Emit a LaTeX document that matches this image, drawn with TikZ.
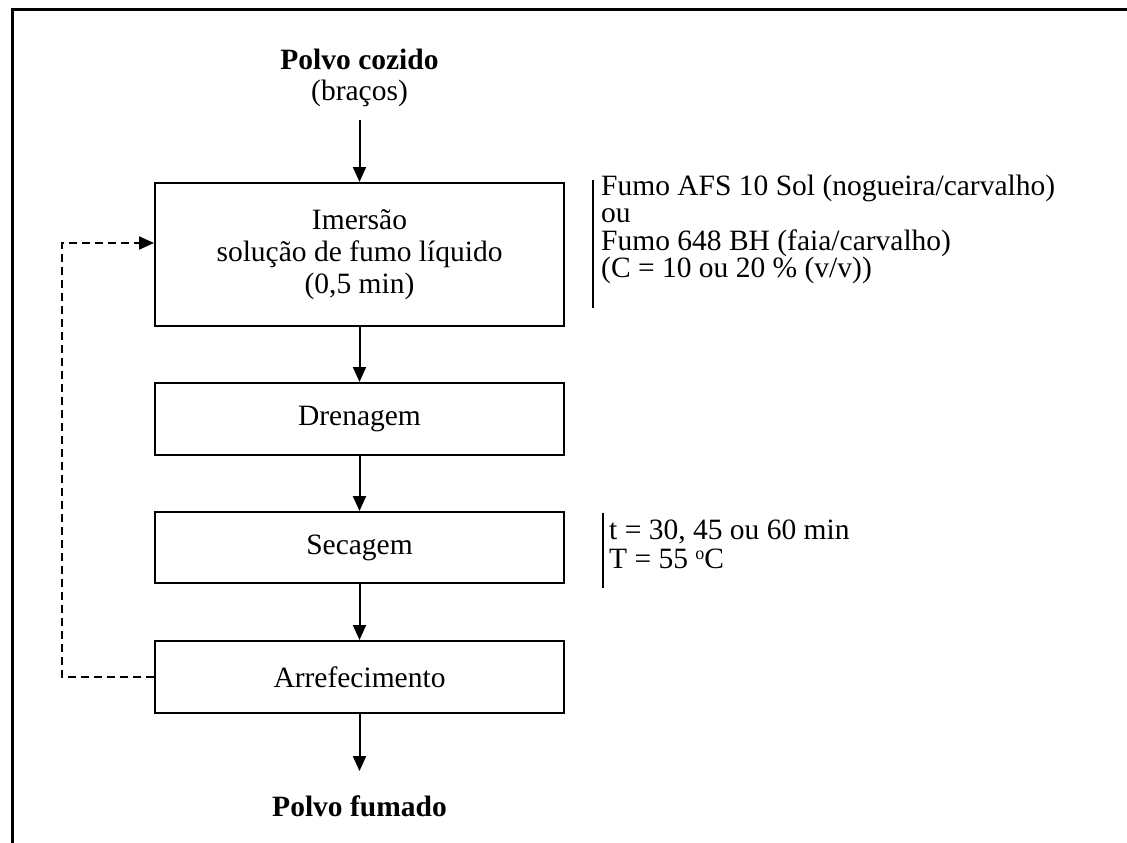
\documentclass[tikz,border=0pt]{standalone}
\usepackage{fontspec}
\setmainfont{Liberation Serif}
\usetikzlibrary{arrows.meta}
\newcommand{\degsup}{\raisebox{9pt}{\fontsize{18}{18}\selectfont o}}
\begin{document}
\begin{tikzpicture}[x=1pt,y=-1pt,
  txt/.style={font=\fontsize{29.5}{32}\selectfont},
  box/.style={draw,line width=2pt,minimum width=409pt,align=center,inner sep=0pt,txt},
  arrowline/.style={line width=2pt,-{Triangle[length=15pt,width=13pt]}},
  dashline/.style={line width=2pt,dash pattern=on 8pt off 5pt,-{Triangle[length=15pt,width=13pt]}},
  note/.style={anchor=base west,inner sep=0pt,align=left},
  title/.style={anchor=base,inner sep=0pt,txt}]
\useasboundingbox (0,0) rectangle (1127,843);
% frame
\draw[line width=3.5pt] (12.5,843) -- (12.5,9.5) -- (1127,9.5);
% titles
\node[title,font=\fontsize{29.5}{32}\selectfont\bfseries] (src1) at (359.5,70) {Polvo cozido};
\node[title] (src2) at (359.5,100) {(braços)};
% boxes
\node[box,minimum height=143pt] (imm) at (359.5,254.5) {Imersão\\solução de fumo líquido\\(0,5 min)};
\node[box,minimum height=72pt] (dren) at (359.5,419) {Drenagem};
\node[box,minimum height=71pt] (sec) at (359.5,547.5) {Secagem};
\node[box,minimum height=72pt] (arr) at (359.5,677) {Arrefecimento};
\node[title,font=\fontsize{29.5}{32}\selectfont\bfseries] (dst) at (359.5,816) {Polvo fumado};
% arrows
\draw[arrowline,shorten <=14pt] (src2.south) -- (imm.north);
\draw[arrowline] (imm.south) -- (dren.north);
\draw[arrowline] (dren.south) -- (sec.north);
\draw[arrowline] (sec.south) -- (arr.north);
\draw[arrowline,shorten >=24pt] (arr.south) -- (dst.north);
\draw[dashline] (arr.west) -- ++(-92,0) |- ([yshift=11.5pt]imm.west);
% notes
\draw[line width=2pt] (593,180) -- (593,308);
\node[note,font=\fontsize{29.5}{27.5}\selectfont] (n1) at (601,277.5) {Fumo AFS 10 Sol (nogueira/carvalho)\\ou\\Fumo 648 BH (faia/carvalho)\\(C = 10 ou 20 \% (v/v))};
\draw[line width=2pt] (603,513) -- (603,588);
\node[note,font=\fontsize{29.5}{29}\selectfont] (m1) at (609,568) {t = 30, 45 ou 60 min\\T = 55 \degsup C};
\end{tikzpicture}
\end{document}
